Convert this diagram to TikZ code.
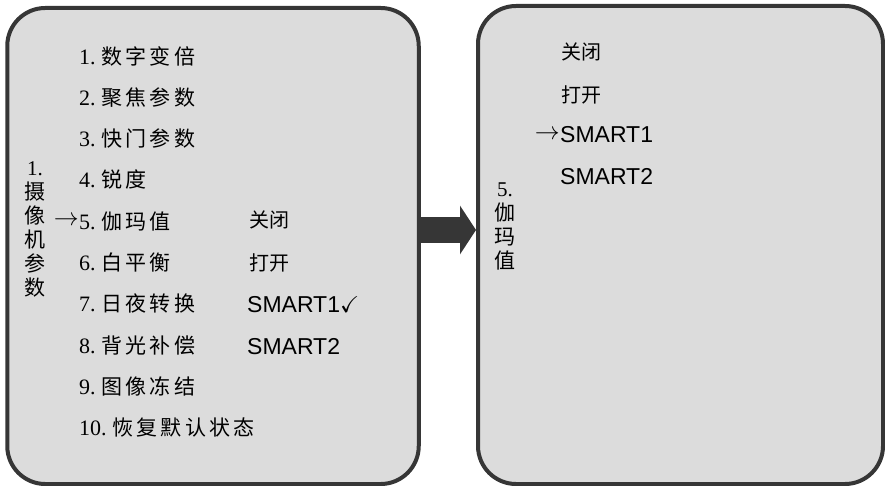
\documentclass[tikz,border=0pt]{standalone}
\usepackage{amssymb}
\usepackage{fontspec}
\setmainfont{Liberation Serif}
\newfontfamily\cjk{Noto Sans CJK SC}
\newfontfamily\cjkwide[LetterSpace=15]{Noto Sans CJK SC}
\newfontfamily\arial{Liberation Sans}
\usetikzlibrary{arrows.meta,positioning}
\definecolor{panelgray}{HTML}{DCDCDC}
\definecolor{edgegray}{HTML}{363636}
\tikzset{
  panel/.style={draw=edgegray,fill=panelgray,line width=4pt,rounded corners=38pt,inner sep=0pt},
  item/.style={anchor=west,inner sep=0pt,font=\fontsize{20}{24}\selectfont},
  menuitem/.style={anchor=west,inner sep=0pt,font=\fontsize{22}{24}\selectfont},
  selarrow/.style={anchor=east,inner sep=0pt,font=\fontsize{24}{24}\selectfont},
  smart/.style={anchor=west,inner sep=0pt,font=\arial\fontsize{23}{26}\selectfont},
  vlabel/.style={align=center,inner sep=0pt,font=\fontsize{21}{24}\selectfont},
  bigarrow/.style={draw=edgegray,line width=26pt,-{Triangle[length=16pt,width=48pt]}}
}

\begin{document}
\begin{tikzpicture}[x=1pt,y=-1pt]
\useasboundingbox (0,0) rectangle (885,486);
% the two menu panels
\node[panel,minimum width=411.5pt,minimum height=476pt] (cam) at (213,246) {};
\node[panel,minimum width=405pt,minimum height=478pt] (gamma) at (680.5,245) {};
% fat arrow between them
\draw[bigarrow] ([yshift=16pt]cam.east) -- ([yshift=16pt]cam.east -| gamma.west);
% camera menu
\node[vlabel] (camlabel) at (35,229) {1.\\{\cjk 摄}\\{\cjk 像}\\{\cjk 机}\\{\cjk 参}\\{\cjk 数}};
\foreach \nr/\lbl [count=\i] in {1./数字变倍,2./聚焦参数,3./快门参数,4./锐度,5./伽玛值,
    6./白平衡,7./日夜转换,8./背光补偿,9./图像冻结,10./恢复默认状态}
  \node[menuitem] (cam\i) at (79,{56+41.3*(\i-1)}) {\nr\hspace{6pt}{\cjkwide\fontsize{21}{24}\selectfont\lbl}};
\node[selarrow] (camsel) at (cam5.west) {$\rightarrow$};
\node[item] (camoff) at (249,220) {\cjk 关闭};
\node[item] (camon) at (249,263) {\cjk 打开};
\node[smart] (camsa) at (247,305) {SMART1{\normalfont$\checkmark$}};
\node[smart] (camsb) at (247,347) {SMART2};
% gamma submenu
\node[vlabel] (gammalabel) at (505,226) {5.\\{\cjk 伽}\\{\cjk 玛}\\{\cjk 值}};
\node[item] (gamoff) at (561,52) {\cjk 关闭};
\node[item] (gamon) at (561,95) {\cjk 打开};
\node[smart] (gamsa) at (560,135) {SMART1};
\node[selarrow] (gamsel) at (gamsa.west) {$\rightarrow$};
\node[smart] (gamsb) at (560,177) {SMART2};
\end{tikzpicture}
\end{document}
